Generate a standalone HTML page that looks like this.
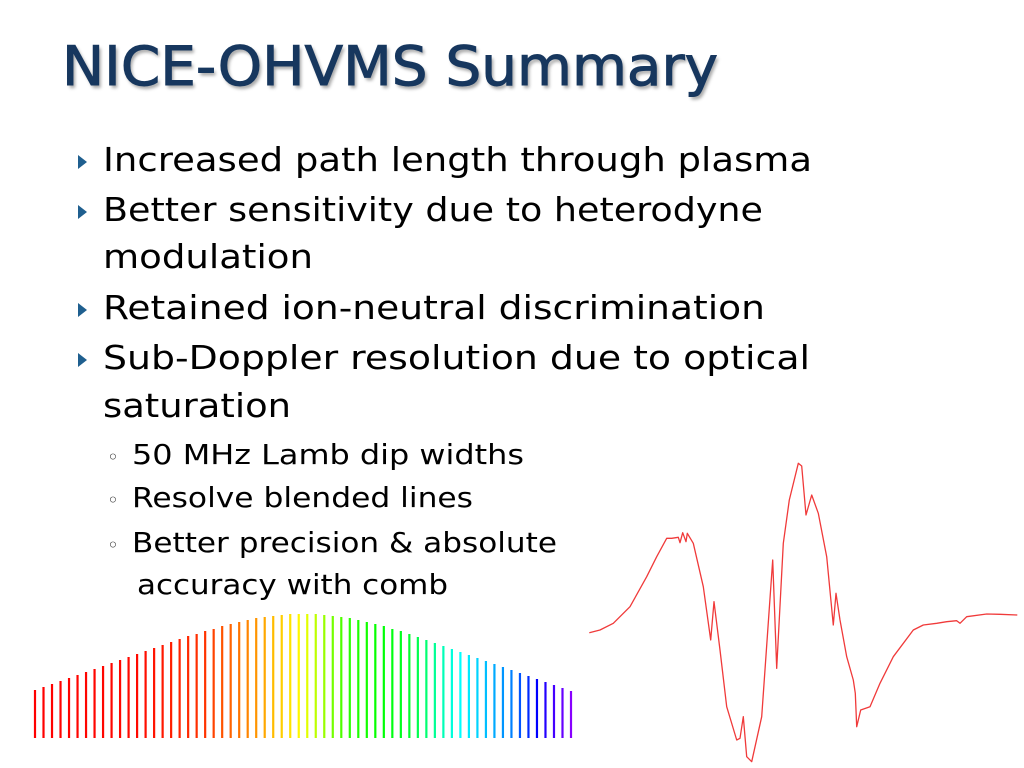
<!DOCTYPE html>
<html><head><meta charset="utf-8">
<style>
body{margin:0;width:1024px;height:768px;background:#fff;overflow:hidden;position:relative;font-family:"DejaVu Sans","Liberation Sans",sans-serif}
.t{position:absolute;white-space:nowrap;color:#000;transform-origin:0 0}
#title{left:62px;top:35px;font-size:54px;color:#17375E;-webkit-text-stroke:1px #17375E;text-shadow:2px 3px 3px rgba(0,0,0,0.35)}
.b{font-size:33px;left:103px}
.ar{position:absolute;left:78px;width:0;height:0;border-top:7px solid transparent;border-bottom:7px solid transparent;border-left:9px solid #1F5F8F}
.s{font-size:28px;left:132px}
.c{position:absolute;left:107px;font-size:20px;color:#333}
</style></head><body>
<div class="t" id="title" data-w="656">NICE-OHVMS Summary</div>

<div class="ar" style="top:155px"></div>
<div class="t b" data-w="709" style="top:140px">Increased path length through plasma</div>
<div class="ar" style="top:205px"></div>
<div class="t b" data-w="660" style="top:190px">Better sensitivity due to heterodyne</div>
<div class="t b" data-w="210" style="top:237px">modulation</div>
<div class="ar" style="top:303px"></div>
<div class="t b" data-w="662" style="top:288px">Retained ion-neutral discrimination</div>
<div class="ar" style="top:353px"></div>
<div class="t b" data-w="707" style="top:338px">Sub-Doppler resolution due to optical</div>
<div class="t b" data-w="188" style="top:386px">saturation</div>

<div class="c" style="top:445px">◦</div>
<div class="t s" data-w="392" style="top:438px">50 MHz Lamb dip widths</div>
<div class="c" style="top:488px">◦</div>
<div class="t s" data-w="341" style="top:481px">Resolve blended lines</div>
<div class="c" style="top:533px">◦</div>
<div class="t s" data-w="425" style="top:526px">Better precision &amp; absolute</div>
<div class="t s" data-w="311" style="top:568px;left:137px">accuracy with comb</div>

<svg id="comb" width="1024" height="768" style="position:absolute;left:0;top:0"></svg>

<script>
const combHeights=[48,51,54,57,60,63,66,69,72,75,78,81,84,87,90,93,96,99,102,104,107,109,112,114,116,118,120,121,122,123,124,124,124,124,123,122,121,120,118,116,114,112,109,107,104,101,98,95,92,89,86,83,80,77,74,71,68,65,62,59,56,53,50,47];
const traceX=[28,60,100,150,200,230,260,275,295,300,308,318,322,340,370,392,402,420,440,470,480,490,500,515,545,578,590,610,628,655,665,678,695,715,740,760,768,780,800,820,826,830,842,870,900,940,1000,1030,1070,1100,1130,1140,1160,1220,1260,1312];
const traceY=[-548,-540,-520,-470,-380,-320,-265,-265,-262,-278,-248,-275,-250,-280,-410,-570,-455,-600,-770,-870,-865,-800,-920,-935,-800,-330,-655,-280,-150,-40,-48,-195,-135,-190,-320,-525,-430,-510,-620,-690,-730,-830,-780,-770,-700,-620,-540,-525,-520,-515,-512,-520,-500,-492,-493,-495];

document.querySelectorAll('[data-w]').forEach(e=>{
  const w=e.getBoundingClientRect().width;
  e.style.transform='scaleX('+(parseFloat(e.dataset.w)/w)+')';
});

const svg=document.getElementById('comb');
const NS='http://www.w3.org/2000/svg';
const n=combHeights.length;
const cx=i=>35+i*(571-35)/(n-1);
const cy=v=>738-v;
const hk=[[0,0],[12,2],[20,12],[26,35],[31,58],[37,110],[44,130],[50,180],[56,210],[59,240],[63,272]];
function hue(i){for(let k=1;k<hk.length;k++){if(i<=hk[k][0]){const a=hk[k-1],b=hk[k];return a[1]+(b[1]-a[1])*(i-a[0])/(b[0]-a[0]);}}return 272;}
for(let i=0;i<n;i++){
  const l=document.createElementNS(NS,'line');
  l.setAttribute('x1',cx(i));l.setAttribute('x2',cx(i));
  l.setAttribute('y1',cy(0));l.setAttribute('y2',cy(combHeights[i]));
  l.setAttribute('stroke','hsl('+hue(i)+',100%,50%)');
  l.setAttribute('stroke-width','2.2');
  
  
  svg.appendChild(l);
}
const tx=v=>580+v/3;
const ty=v=>450-v/3;
let d='';
for(let i=0;i<traceX.length;i++){d+=(i?'L':'M')+tx(traceX[i]).toFixed(1)+' '+ty(traceY[i]).toFixed(1);}
const p=document.createElementNS(NS,'path');
p.setAttribute('d',d);p.setAttribute('fill','none');p.setAttribute('stroke','#F03A3A');p.setAttribute('stroke-width','1.3');p.setAttribute('stroke-linejoin','round');


svg.appendChild(p);
</script>
</body></html>
